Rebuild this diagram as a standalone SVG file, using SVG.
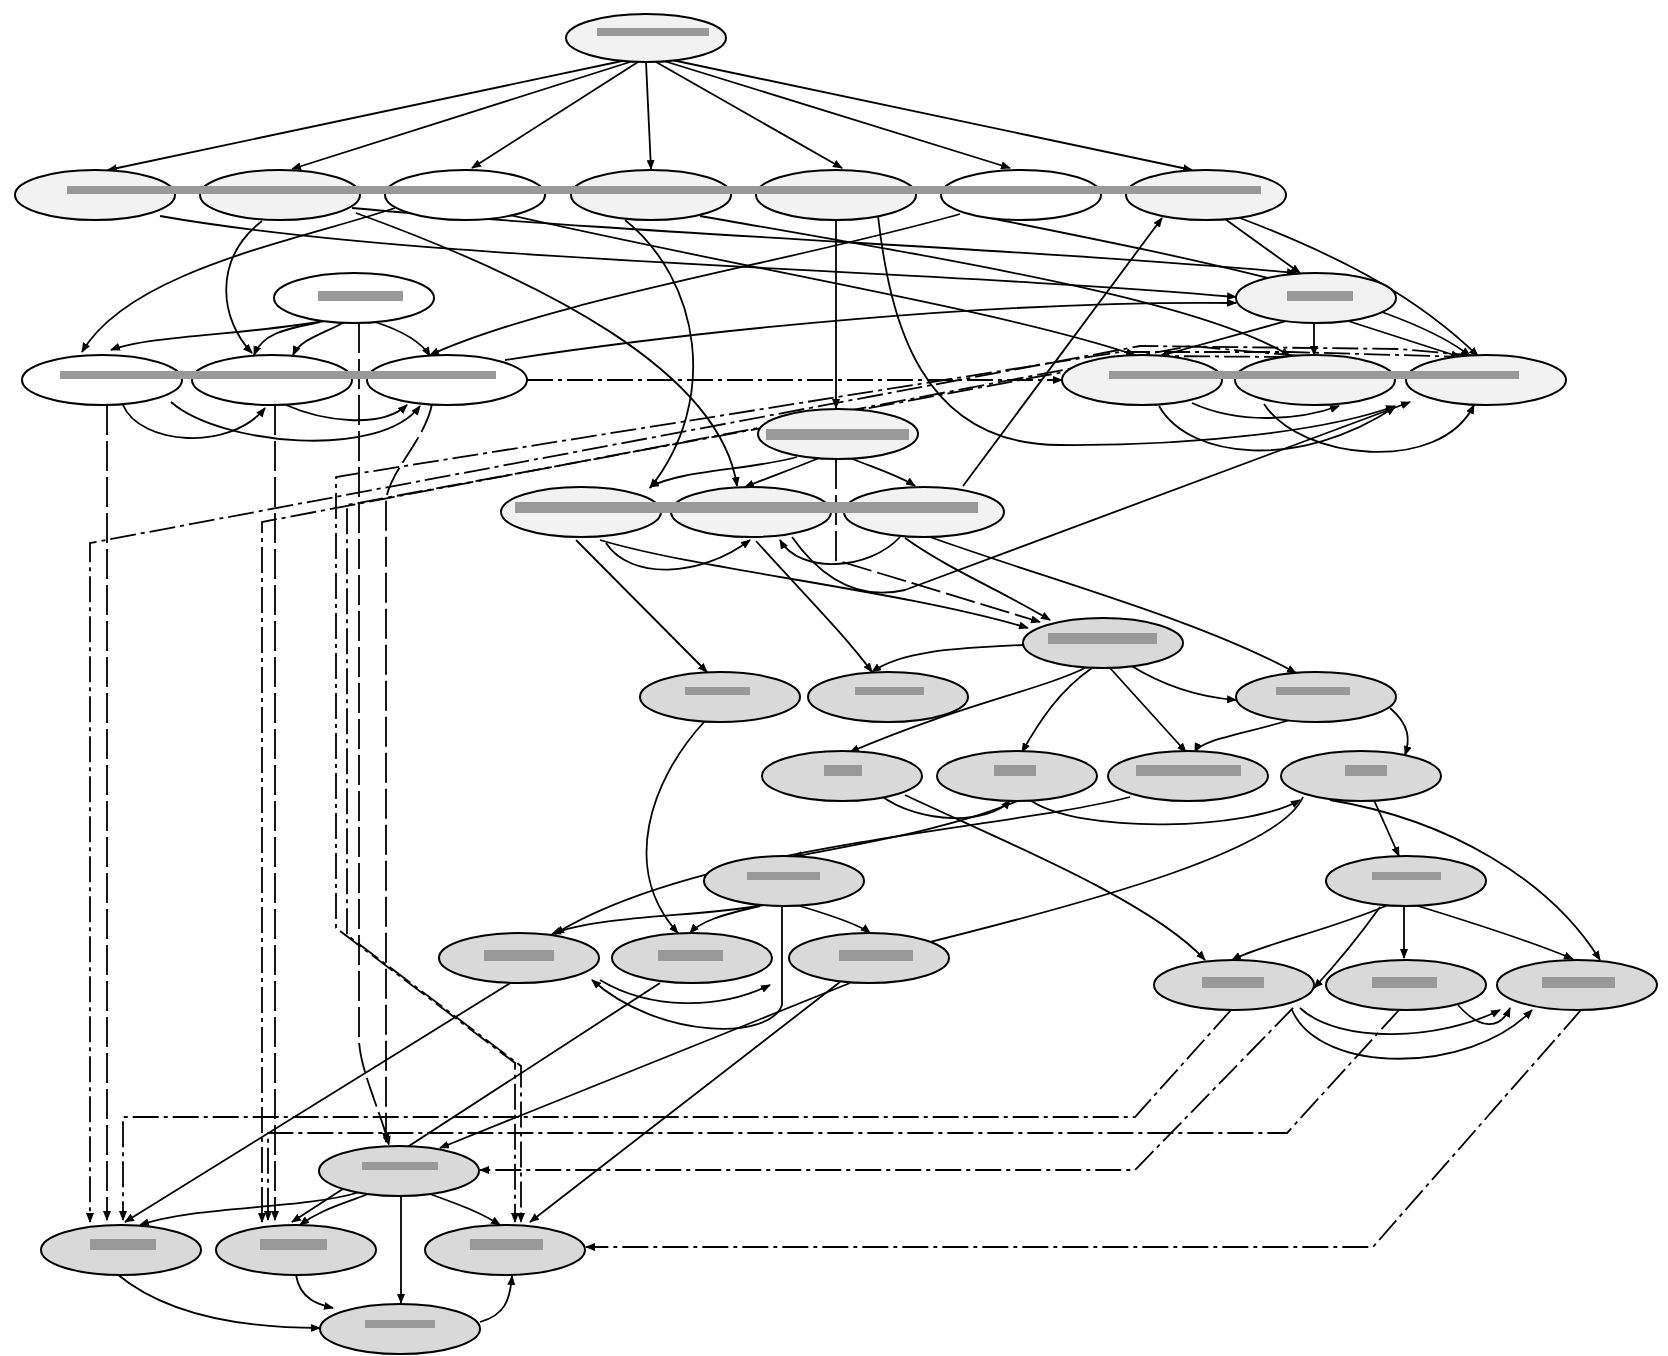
<svg xmlns="http://www.w3.org/2000/svg" width="1668" height="1356" viewBox="0 0 1668 1356">
<style>
.n ellipse{stroke:#000;stroke-width:2}
.l{fill:#f2f2f2}.w{fill:#ffffff}.d{fill:#d9d9d9}
.n rect{fill:#999999}
#edges path{fill:none;stroke:#000;stroke-width:1.8}
#edges .dd{stroke-dasharray:26,5,4,5}
#edges .da{stroke-dasharray:30,6}
</style>
<defs>
<marker id="ar" markerWidth="10" markerHeight="8" refX="9" refY="4" orient="auto" markerUnits="userSpaceOnUse">
<path d="M0,0 L10,4 L0,8 z" fill="#000"/>
</marker>
</defs>
<rect width="1668" height="1356" fill="#ffffff"/>
<g id="edges">
<path d="M622,61 L108,170" marker-end="url(#ar)"/>
<path d="M630,62 L292,169" marker-end="url(#ar)"/>
<path d="M638,62 L472,168" marker-end="url(#ar)"/>
<path d="M646,62 L651,169" marker-end="url(#ar)"/>
<path d="M656,62 L842,168" marker-end="url(#ar)"/>
<path d="M664,61 L1010,168" marker-end="url(#ar)"/>
<path d="M672,60 L1192,170" marker-end="url(#ar)"/>
<path d="M160,216 C420,262 900,268 1236,297" marker-end="url(#ar)"/>
<path d="M352,208 C650,235 1050,250 1296,273" marker-end="url(#ar)"/>
<path d="M395,208 C300,240 130,270 82,352" marker-end="url(#ar)"/>
<path d="M262,221 C212,260 220,320 252,353" marker-end="url(#ar)"/>
<path d="M356,213 C540,280 720,370 737,486" marker-end="url(#ar)"/>
<path d="M625,220 C700,280 720,400 650,488" marker-end="url(#ar)"/>
<path d="M836,220 L836,408" marker-end="url(#ar)"/>
<path d="M878,216 C890,320 920,445 1060,445 C1200,446 1330,430 1395,406" marker-end="url(#ar)"/>
<path d="M963,486 L1162,218" marker-end="url(#ar)"/>
<path d="M505,214 C750,270 1000,310 1135,355" marker-end="url(#ar)"/>
<path d="M700,216 C950,260 1200,300 1290,356" marker-end="url(#ar)"/>
<path d="M990,218 C1200,260 1400,300 1470,356" marker-end="url(#ar)"/>
<path d="M1240,218 C1350,260 1420,300 1478,356" marker-end="url(#ar)"/>
<path d="M1225,219 L1300,273" marker-end="url(#ar)"/>
<path d="M960,214 C800,260 550,300 430,355" marker-end="url(#ar)"/>
<path d="M330,320 C250,335 150,335 111,350" marker-end="url(#ar)"/>
<path d="M320,322 C280,330 262,335 254,355" marker-end="url(#ar)"/>
<path d="M345,322 C320,335 300,340 293,355" marker-end="url(#ar)"/>
<path d="M375,322 C400,330 420,340 430,356" marker-end="url(#ar)"/>
<path class="da" d="M359,323 L359,1040 C360,1070 380,1110 389,1145" marker-end="url(#ar)"/>
<path d="M1290,320 L1160,356" marker-end="url(#ar)"/>
<path d="M1314,323 L1314,355" marker-end="url(#ar)"/>
<path d="M1345,320 L1460,357" marker-end="url(#ar)"/>
<path d="M505,360 C700,330 1000,300 1236,303" marker-end="url(#ar)"/>
<path class="dd" d="M527,380 L1062,380" marker-end="url(#ar)"/>
<path d="M123,405 C140,445 230,452 265,408" marker-end="url(#ar)"/>
<path d="M171,402 C220,445 380,460 420,406" marker-end="url(#ar)"/>
<path d="M286,405 C320,420 380,430 407,405" marker-end="url(#ar)"/>
<path class="da" d="M107,405 L107,1220" marker-end="url(#ar)"/>
<path class="da" d="M275,405 L275,1220" marker-end="url(#ar)"/>
<path class="da" d="M432,404 C425,440 390,470 386,500 L386,1142" marker-end="url(#ar)"/>
<path d="M1159,406 C1190,460 1300,470 1395,407" marker-end="url(#ar)"/>
<path d="M1192,403 C1240,425 1300,420 1339,406" marker-end="url(#ar)"/>
<path d="M1264,404 C1300,460 1440,475 1474,405" marker-end="url(#ar)"/>
<path class="dd" d="M1478,356 L1400,349 L1140,346 L90,543 L90,1222" marker-end="url(#ar)"/>
<path class="dd" d="M1300,356 L1190,346 L262,522 L262,1222" marker-end="url(#ar)"/>
<path class="dd" d="M1470,357 L1290,352 L1120,352 L336,477 L336,928 L515,1063 L515,1222" marker-end="url(#ar)"/>
<path class="dd" d="M1290,357 L1150,356 L347,505 L347,935 L521,1066 L521,1222" marker-end="url(#ar)"/>
<path d="M797,457 C750,470 680,470 650,487" marker-end="url(#ar)"/>
<path d="M819,458 C790,470 770,477 745,487" marker-end="url(#ar)"/>
<path d="M850,458 C880,470 900,476 915,486" marker-end="url(#ar)"/>
<path class="da" d="M836,459 L836,560 L1040,622" marker-end="url(#ar)"/>
<path d="M576,540 L707,672" marker-end="url(#ar)"/>
<path d="M756,541 C800,590 845,635 872,672" marker-end="url(#ar)"/>
<path d="M606,543 C630,580 700,578 750,540" marker-end="url(#ar)"/>
<path d="M792,537 Q840,605 905,590 L1410,402" marker-end="url(#ar)"/>
<path d="M930,537 C1050,580 1200,620 1296,673" marker-end="url(#ar)"/>
<path d="M905,538 C950,570 1000,590 1050,620" marker-end="url(#ar)"/>
<path d="M600,540 C700,570 900,590 1028,628" marker-end="url(#ar)"/>
<path d="M900,537 C870,570 800,575 780,540" marker-end="url(#ar)"/>
<path d="M1023,645 C950,648 900,652 872,672" marker-end="url(#ar)"/>
<path d="M1085,668 C1040,690 960,705 850,752" marker-end="url(#ar)"/>
<path d="M1092,668 C1060,690 1040,720 1022,752" marker-end="url(#ar)"/>
<path d="M1110,668 L1186,752" marker-end="url(#ar)"/>
<path d="M1130,665 C1170,690 1210,698 1236,700" marker-end="url(#ar)"/>
<path d="M705,721 C650,780 620,870 678,933" marker-end="url(#ar)"/>
<path d="M1390,708 C1410,725 1410,740 1405,755" marker-end="url(#ar)"/>
<path d="M1290,720 C1240,735 1200,740 1195,752" marker-end="url(#ar)"/>
<path d="M905,795 C1000,840 1150,900 1205,960" marker-end="url(#ar)"/>
<path d="M1303,797 C1280,850 1100,900 910,947" marker-end="url(#ar)"/>
<path d="M1330,800 C1450,820 1550,880 1600,960" marker-end="url(#ar)"/>
<path d="M1373,798 L1399,856" marker-end="url(#ar)"/>
<path d="M880,795 C920,825 990,825 1010,800" marker-end="url(#ar)"/>
<path d="M1030,800 C1080,835 1250,830 1300,800" marker-end="url(#ar)"/>
<path d="M1130,797 C1000,830 700,845 555,934" marker-end="url(#ar)"/>
<path d="M1020,800 C950,830 850,845 793,857" marker-end="url(#ar)"/>
<path d="M1388,905 C1330,930 1260,945 1232,960" marker-end="url(#ar)"/>
<path d="M1380,907 C1360,935 1340,960 1314,988" marker-end="url(#ar)"/>
<path d="M1404,906 L1404,958" marker-end="url(#ar)"/>
<path d="M1418,906 C1480,925 1540,945 1573,959" marker-end="url(#ar)"/>
<path d="M763,905 C700,917 600,915 552,934" marker-end="url(#ar)"/>
<path d="M760,906 C720,915 700,922 690,933" marker-end="url(#ar)"/>
<path d="M800,906 C830,915 860,925 870,933" marker-end="url(#ar)"/>
<path d="M782,907 L782,1005 C770,1040 660,1040 592,980" marker-end="url(#ar)"/>
<path d="M512,982 L125,1222" marker-end="url(#ar)"/>
<path d="M660,983 L292,1222" marker-end="url(#ar)"/>
<path d="M850,983 L440,1148" marker-end="url(#ar)"/>
<path d="M840,982 L530,1222" marker-end="url(#ar)"/>
<path d="M600,980 C650,1010 720,1010 770,985" marker-end="url(#ar)"/>
<path class="dd" d="M1231,1010 L1135,1117 L123,1117 L123,1220" marker-end="url(#ar)"/>
<path class="dd" d="M1293,1008 L1135,1170 L480,1170" marker-end="url(#ar)"/>
<path class="dd" d="M1399,1010 L1287,1133 L268,1133 L268,1220" marker-end="url(#ar)"/>
<path class="dd" d="M1581,1010 L1373,1247 L586,1247" marker-end="url(#ar)"/>
<path d="M1300,1008 C1340,1045 1440,1040 1500,1010" marker-end="url(#ar)"/>
<path d="M1292,1010 C1320,1075 1470,1075 1532,1010" marker-end="url(#ar)"/>
<path d="M1458,1005 C1480,1030 1500,1030 1510,1008" marker-end="url(#ar)"/>
<path d="M360,1192 C300,1210 200,1205 140,1225" marker-end="url(#ar)"/>
<path d="M368,1194 C340,1205 320,1210 300,1225" marker-end="url(#ar)"/>
<path d="M430,1194 C460,1205 480,1212 500,1225" marker-end="url(#ar)"/>
<path d="M401,1196 L401,1303" marker-end="url(#ar)"/>
<path d="M117,1274 C160,1310 230,1328 320,1328" marker-end="url(#ar)"/>
<path d="M296,1275 C300,1300 320,1305 333,1308" marker-end="url(#ar)"/>
<path d="M480,1322 C505,1315 510,1300 512,1276" marker-end="url(#ar)"/>
</g>
<g id="A" class="n"><ellipse class="l" cx="646" cy="38" rx="80" ry="24"/><rect x="597" y="28" width="112" height="8"/></g>
<g id="B1" class="n"><ellipse class="l" cx="95" cy="195" rx="80" ry="25"/></g>
<g id="B2" class="n"><ellipse class="l" cx="280" cy="195" rx="80" ry="25"/></g>
<g id="B3" class="n"><ellipse class="w" cx="465" cy="195" rx="80" ry="25"/></g>
<g id="B4" class="n"><ellipse class="l" cx="651" cy="195" rx="80" ry="25"/></g>
<g id="B5" class="n"><ellipse class="l" cx="836" cy="195" rx="80" ry="25"/></g>
<g id="B6" class="n"><ellipse class="w" cx="1021" cy="195" rx="80" ry="25"/></g>
<g id="B7" class="n"><ellipse class="l" cx="1206" cy="195" rx="80" ry="25"/></g>
<g id="Blabels" class="n"><rect x="67" y="186" width="123" height="8"/><rect x="190" y="186" width="185" height="8"/><rect x="375" y="186" width="185" height="8"/><rect x="560" y="186" width="185" height="8"/><rect x="745" y="186" width="185" height="8"/><rect x="930" y="186" width="185" height="8"/><rect x="1115" y="186" width="146" height="8"/></g>
<g id="C1" class="n"><ellipse class="w" cx="354" cy="298" rx="80" ry="25"/><rect x="318" y="291" width="85" height="10"/></g>
<g id="C2" class="n"><ellipse class="l" cx="1316" cy="298" rx="80" ry="25"/><rect x="1287" y="291" width="66" height="10"/></g>
<g id="D1" class="n"><ellipse class="w" cx="102" cy="380" rx="80" ry="25"/></g>
<g id="D2" class="n"><ellipse class="w" cx="272" cy="380" rx="80" ry="25"/></g>
<g id="D3" class="n"><ellipse class="w" cx="447" cy="380" rx="80" ry="25"/></g>
<g id="Dlabels" class="n"><rect x="60" y="371" width="127" height="8"/><rect x="187" y="371" width="173" height="8"/><rect x="360" y="371" width="136" height="8"/></g>
<g id="E1" class="n"><ellipse class="l" cx="1142" cy="380" rx="80" ry="25"/></g>
<g id="E2" class="n"><ellipse class="l" cx="1315" cy="380" rx="80" ry="25"/></g>
<g id="E3" class="n"><ellipse class="l" cx="1486" cy="380" rx="80" ry="25"/></g>
<g id="Elabels" class="n"><rect x="1109" y="371" width="119" height="8"/><rect x="1228" y="371" width="172" height="8"/><rect x="1400" y="371" width="119" height="8"/></g>
<g id="F" class="n"><ellipse class="l" cx="838" cy="434" rx="80" ry="25"/><rect x="766" y="429" width="143" height="11"/></g>
<g id="G1" class="n"><ellipse class="l" cx="581" cy="512" rx="80" ry="25"/></g>
<g id="G2" class="n"><ellipse class="l" cx="751" cy="512" rx="80" ry="25"/></g>
<g id="G3" class="n"><ellipse class="l" cx="924" cy="512" rx="80" ry="25"/></g>
<g id="Glabels" class="n"><rect x="515" y="502" width="151" height="11"/><rect x="666" y="502" width="172" height="11"/><rect x="838" y="502" width="140" height="11"/></g>
<g id="H" class="n"><ellipse class="d" cx="1103" cy="643" rx="80" ry="25"/><rect x="1048" y="633" width="109" height="11"/></g>
<g id="I1" class="n"><ellipse class="d" cx="720" cy="697" rx="80" ry="25"/><rect x="685" y="687" width="65" height="8"/></g>
<g id="I2" class="n"><ellipse class="d" cx="888" cy="697" rx="80" ry="25"/><rect x="855" y="687" width="69" height="8"/></g>
<g id="I3" class="n"><ellipse class="d" cx="1316" cy="697" rx="80" ry="25"/><rect x="1276" y="687" width="74" height="8"/></g>
<g id="J1" class="n"><ellipse class="d" cx="842" cy="776" rx="80" ry="25"/><rect x="824" y="765" width="38" height="11"/></g>
<g id="J2" class="n"><ellipse class="d" cx="1017" cy="776" rx="80" ry="25"/><rect x="994" y="765" width="42" height="11"/></g>
<g id="J3" class="n"><ellipse class="d" cx="1188" cy="776" rx="80" ry="25"/><rect x="1136" y="765" width="105" height="11"/></g>
<g id="J4" class="n"><ellipse class="d" cx="1361" cy="776" rx="80" ry="25"/><rect x="1345" y="765" width="42" height="11"/></g>
<g id="K1" class="n"><ellipse class="d" cx="784" cy="881" rx="80" ry="25"/><rect x="747" y="872" width="73" height="8"/></g>
<g id="K2" class="n"><ellipse class="d" cx="1406" cy="881" rx="80" ry="25"/><rect x="1372" y="872" width="69" height="8"/></g>
<g id="L1" class="n"><ellipse class="d" cx="519" cy="958" rx="80" ry="25"/><rect x="484" y="950" width="70" height="11"/></g>
<g id="L2" class="n"><ellipse class="d" cx="692" cy="958" rx="80" ry="25"/><rect x="658" y="950" width="65" height="11"/></g>
<g id="L3" class="n"><ellipse class="d" cx="869" cy="958" rx="80" ry="25"/><rect x="839" y="950" width="74" height="11"/></g>
<g id="M1" class="n"><ellipse class="d" cx="1234" cy="985" rx="80" ry="25"/><rect x="1202" y="977" width="62" height="11"/></g>
<g id="M2" class="n"><ellipse class="d" cx="1406" cy="985" rx="80" ry="25"/><rect x="1372" y="977" width="65" height="11"/></g>
<g id="M3" class="n"><ellipse class="d" cx="1577" cy="985" rx="80" ry="25"/><rect x="1542" y="977" width="73" height="11"/></g>
<g id="N" class="n"><ellipse class="d" cx="399" cy="1171" rx="80" ry="25"/><rect x="362" y="1162" width="76" height="8"/></g>
<g id="O1" class="n"><ellipse class="d" cx="121" cy="1250" rx="80" ry="25"/><rect x="90" y="1239" width="66" height="11"/></g>
<g id="O2" class="n"><ellipse class="d" cx="296" cy="1250" rx="80" ry="25"/><rect x="260" y="1239" width="67" height="11"/></g>
<g id="O3" class="n"><ellipse class="d" cx="505" cy="1250" rx="80" ry="25"/><rect x="470" y="1239" width="73" height="11"/></g>
<g id="P" class="n"><ellipse class="d" cx="400" cy="1329" rx="80" ry="25"/><rect x="365" y="1320" width="70" height="8"/></g>
</svg>
